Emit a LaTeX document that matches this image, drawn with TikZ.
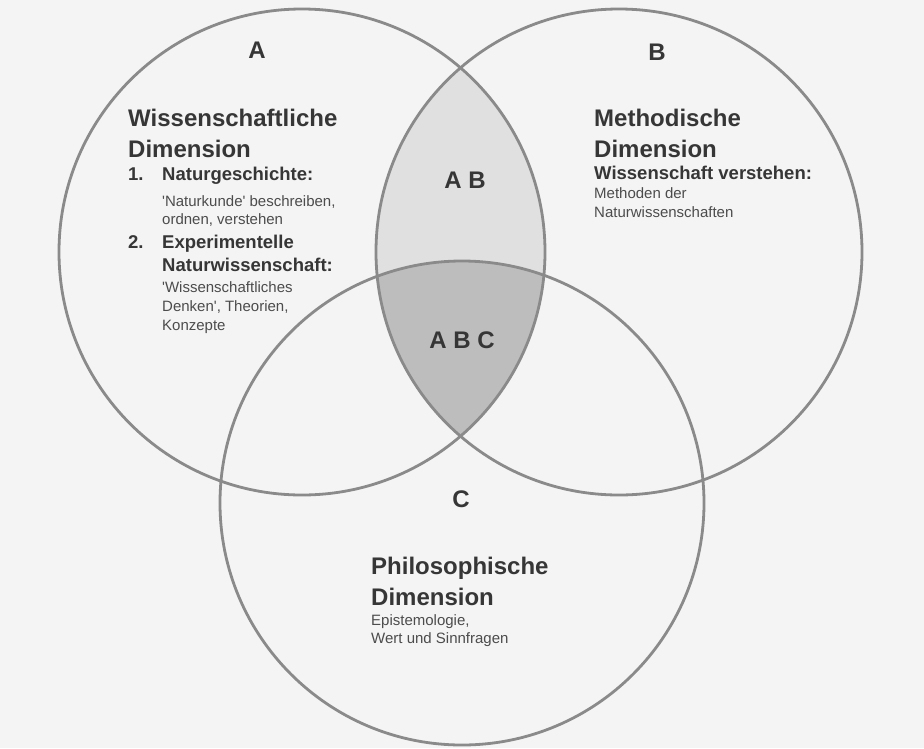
\documentclass[tikz,border=0pt]{standalone}
\usepackage{fontspec}
\setmainfont{Liberation Sans}
\definecolor{bg}{HTML}{F4F4F4}
\definecolor{ring}{HTML}{8A8A8A}
\definecolor{fillab}{HTML}{E0E0E0}
\definecolor{fillabc}{HTML}{BDBDBD}
\definecolor{head}{HTML}{363636}
\definecolor{body}{HTML}{4C4C4C}
\begin{document}
\begin{tikzpicture}[x=1pt,y=-1pt,
  ring/.style={draw=ring,line width=2.8pt},
  bigletter/.style={text=head,font=\fontsize{24}{24}\selectfont\bfseries,anchor=center,inner sep=0pt},
  heading/.style={text=head,font=\fontsize{24}{24}\selectfont\bfseries,anchor=base west,inner sep=0pt},
  subhead/.style={text=head,font=\fontsize{18.5}{18.5}\selectfont\bfseries,anchor=base west,inner sep=0pt},
  small/.style={text=body,font=\fontsize{15}{15}\selectfont,anchor=base west,inner sep=0pt}]
\fill[bg] (0,0) rectangle (924,748);
\useasboundingbox (0,0) rectangle (924,748);
\coordinate (cA) at (302,252);
\coordinate (cB) at (619,252);
\coordinate (cC) at (462,503);
% intersections
\begin{scope}
  \clip (cA) circle [radius=243pt];
  \fill[fillab] (cB) circle [radius=243pt];
\end{scope}
\begin{scope}
  \clip (cA) circle [radius=243pt];
  \clip (cB) circle [radius=243pt];
  \fill[fillabc] (cC) circle [radius=242pt];
\end{scope}
\draw[ring] (cA) circle [radius=243pt];
\draw[ring] (cB) circle [radius=243pt];
\draw[ring] (cC) circle [radius=242pt];
% region labels
\node[bigletter] (lA) at (257,50) {A};
\node[bigletter] (lB) at (657,52) {B};
\node[bigletter] (lAB) at (465,180) {A B};
\node[bigletter] (lABC) at (462,340) {A B C};
\node[bigletter] (lC) at (461,499) {C};
% A text
\node[heading] (hA1) at (128,126) {Wissenschaftliche};
\node[heading] (hA2) at (128,157) {Dimension};
\node[subhead] (n1) at (128,180) {1.};
\node[subhead] (i1) at (162,180) {Naturgeschichte:};
\node[small] (t1a) at (162,206) {\textquotesingle Naturkunde\textquotesingle{} beschreiben,};
\node[small] (t1b) at (162,224) {ordnen, verstehen};
\node[subhead] (n2) at (128,248) {2.};
\node[subhead] (i2a) at (162,248) {Experimentelle};
\node[subhead] (i2b) at (162,271) {Naturwissenschaft:};
\node[small] (t2a) at (162,292) {\textquotesingle Wissenschaftliches};
\node[small] (t2b) at (162,311) {Denken\textquotesingle, Theorien,};
\node[small] (t2c) at (162,330) {Konzepte};
% B text
\node[heading] (hB1) at (594,126) {Methodische};
\node[heading] (hB2) at (594,157) {Dimension};
\node[subhead] (sB) at (594,179) {Wissenschaft verstehen:};
\node[small] (tBa) at (594,198) {Methoden der};
\node[small] (tBb) at (594,217) {Naturwissenschaften};
% C text
\node[heading] (hC1) at (371,574) {Philosophische};
\node[heading] (hC2) at (371,605) {Dimension};
\node[small] (tCa) at (371,625) {Epistemologie,};
\node[small] (tCb) at (371,643) {Wert und Sinnfragen};
\end{tikzpicture}
\end{document}
